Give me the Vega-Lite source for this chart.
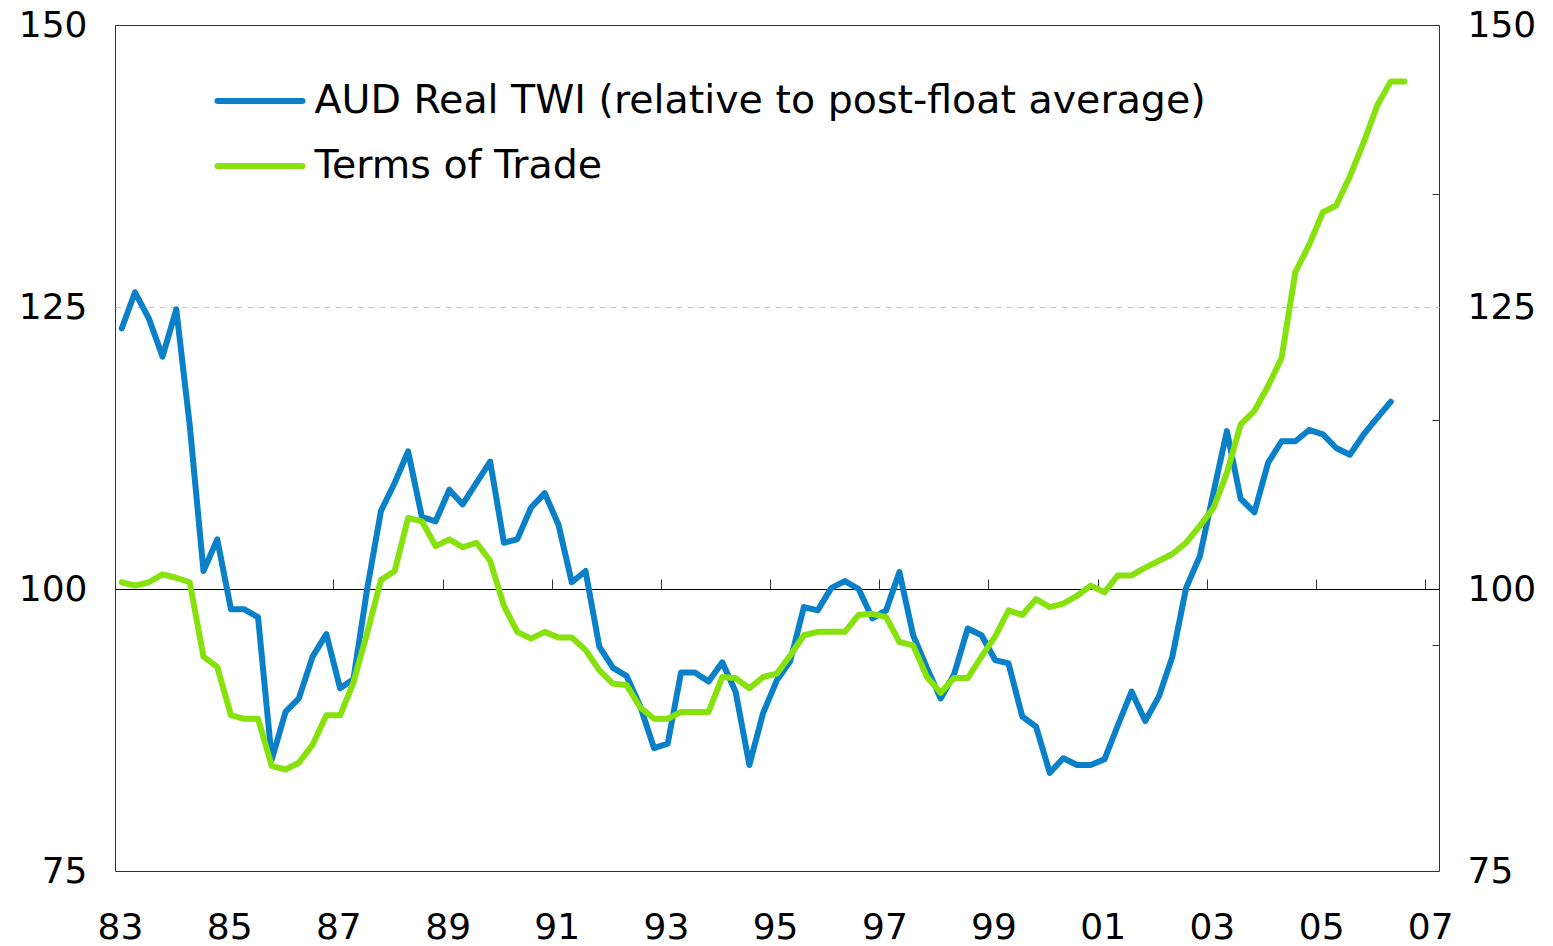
{
  "$schema": "https://vega.github.io/schema/vega-lite/v6.json",
  "width": 1324,
  "height": 846,
  "autosize": {"type": "none"},
  "padding": {"left": 115, "top": 25, "right": 114, "bottom": 75},
  "background": "#ffffff",
  "config": {
    "view": {"stroke": "#333333", "strokeWidth": 1},
    "font": "DejaVu Sans",
    "axis": {"labelFont": "DejaVu Sans", "labelColor": "#000000", "title": null}
  },
  "data": {
    "values": [
      {"q": "1983-02-15", "twi": 123.1, "tot": 100.6},
      {"q": "1983-05-15", "twi": 126.3, "tot": 100.3},
      {"q": "1983-08-15", "twi": 124.0, "tot": 100.6},
      {"q": "1983-11-15", "twi": 120.6, "tot": 101.3},
      {"q": "1984-02-15", "twi": 124.8, "tot": 101.0},
      {"q": "1984-05-15", "twi": 114.5, "tot": 100.6},
      {"q": "1984-08-15", "twi": 101.6, "tot": 94.0},
      {"q": "1984-11-15", "twi": 104.4, "tot": 93.1},
      {"q": "1985-02-15", "twi": 98.2, "tot": 88.8},
      {"q": "1985-05-15", "twi": 98.2, "tot": 88.5},
      {"q": "1985-08-15", "twi": 97.5, "tot": 88.5},
      {"q": "1985-11-15", "twi": 84.9, "tot": 84.3},
      {"q": "1986-02-15", "twi": 89.1, "tot": 84.0},
      {"q": "1986-05-15", "twi": 90.3, "tot": 84.6},
      {"q": "1986-08-15", "twi": 94.0, "tot": 86.2},
      {"q": "1986-11-15", "twi": 96.0, "tot": 88.8},
      {"q": "1987-02-15", "twi": 91.2, "tot": 88.8},
      {"q": "1987-05-15", "twi": 92.0, "tot": 91.7},
      {"q": "1987-08-15", "twi": 100.0, "tot": 96.1},
      {"q": "1987-11-15", "twi": 106.9, "tot": 100.8},
      {"q": "1988-02-15", "twi": 109.4, "tot": 101.6},
      {"q": "1988-05-15", "twi": 112.2, "tot": 106.3},
      {"q": "1988-08-15", "twi": 106.4, "tot": 106.0},
      {"q": "1988-11-15", "twi": 106.0, "tot": 103.8},
      {"q": "1989-02-15", "twi": 108.8, "tot": 104.4},
      {"q": "1989-05-15", "twi": 107.5, "tot": 103.7},
      {"q": "1989-08-15", "twi": 109.4, "tot": 104.1},
      {"q": "1989-11-15", "twi": 111.3, "tot": 102.5},
      {"q": "1990-02-15", "twi": 104.1, "tot": 98.5},
      {"q": "1990-05-15", "twi": 104.4, "tot": 96.2},
      {"q": "1990-08-15", "twi": 107.2, "tot": 95.6},
      {"q": "1990-11-15", "twi": 108.5, "tot": 96.2},
      {"q": "1991-02-15", "twi": 105.7, "tot": 95.7},
      {"q": "1991-05-15", "twi": 100.6, "tot": 95.7},
      {"q": "1991-08-15", "twi": 101.6, "tot": 94.6},
      {"q": "1991-11-15", "twi": 94.9, "tot": 92.8},
      {"q": "1992-02-15", "twi": 93.0, "tot": 91.6},
      {"q": "1992-05-15", "twi": 92.3, "tot": 91.5},
      {"q": "1992-08-15", "twi": 89.6, "tot": 89.5},
      {"q": "1992-11-15", "twi": 85.9, "tot": 88.5},
      {"q": "1993-02-15", "twi": 86.3, "tot": 88.5},
      {"q": "1993-05-15", "twi": 92.6, "tot": 89.1},
      {"q": "1993-08-15", "twi": 92.6, "tot": 89.1},
      {"q": "1993-11-15", "twi": 91.8, "tot": 89.1},
      {"q": "1994-02-15", "twi": 93.5, "tot": 92.2},
      {"q": "1994-05-15", "twi": 90.9, "tot": 92.1},
      {"q": "1994-08-15", "twi": 84.4, "tot": 91.2},
      {"q": "1994-11-15", "twi": 89.0, "tot": 92.2},
      {"q": "1995-02-15", "twi": 91.9, "tot": 92.5},
      {"q": "1995-05-15", "twi": 93.6, "tot": 94.1},
      {"q": "1995-08-15", "twi": 98.4, "tot": 95.9},
      {"q": "1995-11-15", "twi": 98.1, "tot": 96.2},
      {"q": "1996-02-15", "twi": 100.1, "tot": 96.2},
      {"q": "1996-05-15", "twi": 100.7, "tot": 96.2},
      {"q": "1996-08-15", "twi": 100.0, "tot": 97.7},
      {"q": "1996-11-15", "twi": 97.4, "tot": 97.8},
      {"q": "1997-02-15", "twi": 98.1, "tot": 97.5},
      {"q": "1997-05-15", "twi": 101.5, "tot": 95.3},
      {"q": "1997-08-15", "twi": 95.9, "tot": 95.0},
      {"q": "1997-11-15", "twi": 93.0, "tot": 92.2},
      {"q": "1998-02-15", "twi": 90.3, "tot": 90.8},
      {"q": "1998-05-15", "twi": 92.4, "tot": 92.1},
      {"q": "1998-08-15", "twi": 96.5, "tot": 92.1},
      {"q": "1998-11-15", "twi": 95.9, "tot": 94.0},
      {"q": "1999-02-15", "twi": 93.7, "tot": 95.8},
      {"q": "1999-05-15", "twi": 93.4, "tot": 98.1},
      {"q": "1999-08-15", "twi": 88.7, "tot": 97.7},
      {"q": "1999-11-15", "twi": 87.8, "tot": 99.1},
      {"q": "2000-02-15", "twi": 83.7, "tot": 98.4},
      {"q": "2000-05-15", "twi": 85.0, "tot": 98.7},
      {"q": "2000-08-15", "twi": 84.4, "tot": 99.4},
      {"q": "2000-11-15", "twi": 84.4, "tot": 100.3},
      {"q": "2001-02-15", "twi": 84.9, "tot": 99.7},
      {"q": "2001-05-15", "twi": 87.9, "tot": 101.2},
      {"q": "2001-08-15", "twi": 90.9, "tot": 101.2},
      {"q": "2001-11-15", "twi": 88.3, "tot": 101.9},
      {"q": "2002-02-15", "twi": 90.5, "tot": 102.5},
      {"q": "2002-05-15", "twi": 94.0, "tot": 103.1},
      {"q": "2002-08-15", "twi": 100.1, "tot": 104.1},
      {"q": "2002-11-15", "twi": 102.9, "tot": 105.6},
      {"q": "2003-02-15", "twi": 108.6, "tot": 107.2},
      {"q": "2003-05-15", "twi": 114.0, "tot": 110.3},
      {"q": "2003-08-15", "twi": 108.0, "tot": 114.6},
      {"q": "2003-11-15", "twi": 106.8, "tot": 115.8},
      {"q": "2004-02-15", "twi": 111.2, "tot": 118.0},
      {"q": "2004-05-15", "twi": 113.1, "tot": 120.5},
      {"q": "2004-08-15", "twi": 113.1, "tot": 128.1},
      {"q": "2004-11-15", "twi": 114.1, "tot": 130.5},
      {"q": "2005-02-15", "twi": 113.7, "tot": 133.4},
      {"q": "2005-05-15", "twi": 112.5, "tot": 134.0},
      {"q": "2005-08-15", "twi": 111.9, "tot": 136.6},
      {"q": "2005-11-15", "twi": 113.7, "tot": 139.6},
      {"q": "2006-02-15", "twi": 115.2, "tot": 142.9},
      {"q": "2006-05-15", "twi": 116.6, "tot": 145.0},
      {"q": "2006-08-15", "twi": null, "tot": 145.0}
    ]
  },
  "transform": [{"fold": ["twi", "tot"], "as": ["series", "value"]}],
  "layer": [
    {
      "mark": {"type": "line", "strokeWidth": 6, "strokeCap": "round", "strokeJoin": "round"},
      "encoding": {
        "x": {
          "field": "q",
          "type": "temporal",
          "scale": {
            "type": "utc",
            "domain": [
              {"year": 1983, "month": 1, "date": 1, "utc": true},
              {"year": 2007, "month": 4, "date": 3, "utc": true}
            ]
          },
          "axis": {
            "orient": "bottom",
            "values": [
              {"year": 1983, "month": 1, "date": 1, "utc": true},
              {"year": 1985, "month": 1, "date": 1, "utc": true},
              {"year": 1987, "month": 1, "date": 1, "utc": true},
              {"year": 1989, "month": 1, "date": 1, "utc": true},
              {"year": 1991, "month": 1, "date": 1, "utc": true},
              {"year": 1993, "month": 1, "date": 1, "utc": true},
              {"year": 1995, "month": 1, "date": 1, "utc": true},
              {"year": 1997, "month": 1, "date": 1, "utc": true},
              {"year": 1999, "month": 1, "date": 1, "utc": true},
              {"year": 2001, "month": 1, "date": 1, "utc": true},
              {"year": 2003, "month": 1, "date": 1, "utc": true},
              {"year": 2005, "month": 1, "date": 1, "utc": true},
              {"year": 2007, "month": 1, "date": 1, "utc": true}
            ],
            "labelExpr": "utcFormat(datum.value, '%y')",
            "ticks": false,
            "domain": false,
            "grid": false,
            "labelFontSize": 36,
            "labelPadding": 39,
            "labelOffset": 5,
            "labelFlush": false,
            "labelOverlap": false,
            "labelBound": false,
            "title": null
          }
        },
        "y": {
          "field": "value",
          "type": "quantitative",
          "scale": {"domain": [75, 150], "nice": false, "zero": false},
          "axis": {
            "orient": "left",
            "values": [75, 100, 125, 150],
            "ticks": false,
            "domain": false,
            "labelFontSize": 36,
            "labelPadding": 28,
            "labelOverlap": false,
            "grid": true,
            "gridColor": "#c8c8c8",
            "gridDash": [6, 5],
            "gridWidth": 1,
            "gridOpacity": {"condition": {"test": "datum.value === 125", "value": 1}, "value": 0},
            "title": null
          }
        },
        "color": {
          "field": "series",
          "type": "nominal",
          "scale": {"domain": ["twi", "tot"], "range": ["#0a80c8", "#87e10c"]},
          "legend": {
            "orient": "none",
            "legendX": 99.5,
            "legendY": 30.5,
            "title": null,
            "symbolType": "stroke",
            "symbolSize": 7225,
            "symbolStrokeWidth": 6,
            "labelFontSize": 39.5,
            "labelFont": "DejaVu Sans",
            "labelColor": "#000000",
            "labelOffset": 9,
            "labelLimit": 2000,
            "rowPadding": -28,
            "padding": 0,
            "labelExpr": "datum.label === 'twi' ? 'AUD Real TWI (relative to post-float average)' : 'Terms of Trade'",
            "encode": {"symbols": {"update": {"strokeCap": {"value": "round"}}}}
          }
        }
      }
    },
    {
      "mark": {"type": "line", "opacity": 0},
      "encoding": {
        "x": {
          "field": "q",
          "type": "temporal",
          "axis": {
            "orient": "top",
            "offset": -564,
            "values": [
              {"year": 1985, "month": 1, "date": 1, "utc": true},
              {"year": 1987, "month": 1, "date": 1, "utc": true},
              {"year": 1989, "month": 1, "date": 1, "utc": true},
              {"year": 1991, "month": 1, "date": 1, "utc": true},
              {"year": 1993, "month": 1, "date": 1, "utc": true},
              {"year": 1995, "month": 1, "date": 1, "utc": true},
              {"year": 1997, "month": 1, "date": 1, "utc": true},
              {"year": 1999, "month": 1, "date": 1, "utc": true},
              {"year": 2001, "month": 1, "date": 1, "utc": true},
              {"year": 2003, "month": 1, "date": 1, "utc": true},
              {"year": 2005, "month": 1, "date": 1, "utc": true},
              {"year": 2007, "month": 1, "date": 1, "utc": true}
            ],
            "labels": false,
            "ticks": true,
            "tickSize": 10,
            "tickColor": "#333333",
            "tickWidth": 1,
            "domain": true,
            "domainColor": "#000000",
            "domainWidth": 1,
            "grid": false,
            "title": null
          }
        },
        "y": {
          "field": "value",
          "type": "quantitative",
          "axis": {
            "orient": "right",
            "values": [75, 95, 100, 115, 125, 135, 150],
            "labelExpr": "datum.value % 25 === 0 ? datum.label : ''",
            "labelFontSize": 36,
            "labelPadding": 35,
            "labelOverlap": false,
            "ticks": true,
            "tickSize": -7,
            "tickColor": "#333333",
            "tickOpacity": {"condition": {"test": "datum.value % 20 === 15 && datum.value > 80", "value": 1}, "value": 0},
            "domain": false,
            "grid": false,
            "title": null
          }
        }
      }
    }
  ],
  "resolve": {"axis": {"x": "independent", "y": "independent"}}
}
